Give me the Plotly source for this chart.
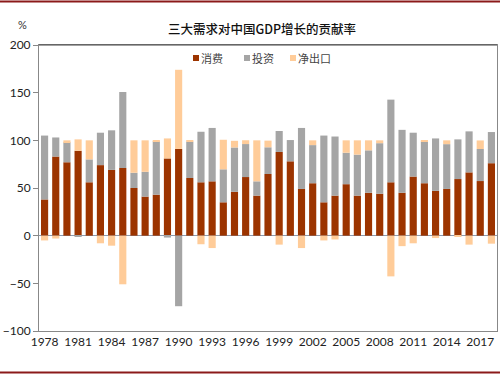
import plotly.graph_objects as go

years = list(range(1978, 2019))
consumption = [38, 83, 77, 89, 56, 74, 69, 71, 50, 41, 43, 81, 91, 60.5, 56, 57, 35, 46, 61.5, 42,
               64.7, 87.8, 78, 49, 55, 35, 42, 54, 42, 45, 44, 56, 45, 62, 55, 47, 49, 59.4, 66.4, 57.3, 76]
investment = [67, 20, 21, -1, 24, 34, 41.5, 79.7, 16, 26, 56, -2, -74, 38, 53, 56, 34.6, 46.5, 34.6, 15,
              28, 22, 22.3, 64, 40, 70, 62, 33, 43, 44.5, 53, 86.7, 66, 46, 43.6, 55, 47, 41.6, 43, 33.6, 32.7]
net_exports = [-5, -3, 2, 12, 20, -8, -10.5, -51, 34, 33, 1, 21, 83, 1, -9, -13, 31, 7, 4, 43,
               7, -9.4, 0, -13, 5, -5, -4, 13, 15, 10.5, 3, -42.7, -11, -8, 1, -2.5, 4, -1.4, -9.4, 9, -8.4]

series_names = ["消费", "投资", "净出口"]
colors = ["#9C3400", "#A5A5A5", "#FFCC99"]
tick_years = list(range(1978, 2018, 3))
y_ticks = [-100, -50, 0, 50, 100, 150, 200]

fig = go.Figure()
for name, vals, col in zip(series_names, [consumption, investment, net_exports], colors):
    fig.add_trace(go.Bar(x=years, y=vals, name=name, showlegend=False,
                         marker=dict(color=col, line=dict(width=0))))

L, R, T, B = 39, 3, 45, 44
W, H = 500, 375
ph = H - T - B
pw = W - L - R


def px(x):
    return (x - L) / pw


def py(y):
    return 1 - (y - T) / ph


# compact legend like the reference: small squares + labels
legend_sq_x = [193, 244, 290]
shapes = [
    dict(type="line", xref="paper", yref="paper", x0=px(0), x1=px(W), y0=py(1.5), y1=py(1.5),
         line=dict(color="#8B1A1A", width=2)),
    dict(type="line", xref="paper", yref="paper", x0=px(0), x1=px(W), y0=py(H - 2.5), y1=py(H - 2.5),
         line=dict(color="#8B1A1A", width=2)),
    dict(type="line", xref="paper", yref="paper", x0=0, x1=1, y0=1, y1=1,
         line=dict(color="#444444", width=1)),
]
annotations = [dict(text="%", xref="paper", yref="paper", x=px(22), y=py(25),
                    xanchor="center", yanchor="middle", showarrow=False,
                    font=dict(size=11, color="#333333"))]
for name, col, lx in zip(series_names, colors, legend_sq_x):
    shapes.append(dict(type="rect", xref="paper", yref="paper", x0=px(lx), x1=px(lx + 6),
                       y0=py(61), y1=py(55), fillcolor=col, line=dict(width=0)))
    annotations.append(dict(text=name, xref="paper", yref="paper", x=px(lx + 6), y=py(58),
                            xanchor="left", yanchor="middle", showarrow=False,
                            font=dict(size=11, color="#444444", family="'Noto Sans CJK SC'")))

fig.update_layout(
    width=W, height=H,
    margin=dict(l=L, r=R, t=T, b=B),
    barmode="relative",
    bargap=0.36,
    plot_bgcolor="white", paper_bgcolor="white",
    font=dict(family="Lato, 'Noto Sans CJK SC'", size=12, color="#333333"),
    title=dict(text="三大需求对中国GDP增长的贡献率", x=262 / W, xanchor="center", y=1 - 30 / H,
               yanchor="middle",
               font=dict(family="'Noto Sans CJK SC'", size=12.5, color="#111111", weight=500)),
    xaxis=dict(tickmode="array", tickvals=tick_years, ticktext=[str(y) for y in tick_years],
               range=[1977.5, 2018.5], showgrid=False, showline=True, linecolor="#888888", linewidth=1,
               mirror=True, ticks="", zeroline=False, tickfont=dict(size=12, color="#222222")),
    yaxis=dict(range=[-100, 200], tickvals=y_ticks, showgrid=False, showline=True, linecolor="#888888",
               linewidth=1, mirror=True, ticks="outside", ticklen=5, tickcolor="#888888",
               zeroline=True, zerolinecolor="#8A9AAE", zerolinewidth=1,
               tickfont=dict(size=12, color="#222222")),
    annotations=annotations,
    shapes=shapes,
)

fig.write_html("out.html", config={"displayModeBar": False},
               post_script="document.body.style.margin='0';document.body.style.padding='0';")
